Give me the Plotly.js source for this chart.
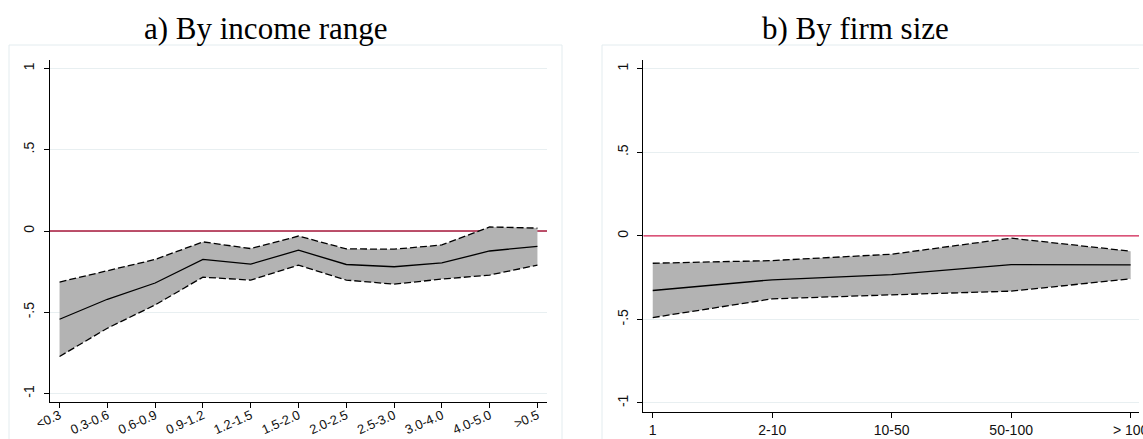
<!DOCTYPE html>
<html><head><meta charset="utf-8">
<script src="https://cdn.plot.ly/plotly-3.0.1.min.js"></script>
<style>html,body{margin:0;padding:0;background:#fff}#chart{width:1143px;height:439px}</style>
</head><body><div id="chart"></div>
<script>
const incomeCategories = ["<0.3","0.3-0.6","0.6-0.9","0.9-1.2","1.2-1.5","1.5-2.0","2.0-2.5","2.5-3.0","3.0-4.0","4.0-5.0",">0.5"];
const incomeEstimate = [-0.543,-0.420,-0.320,-0.175,-0.204,-0.118,-0.206,-0.220,-0.196,-0.123,-0.094];
const incomeUpper    = [-0.314,-0.245,-0.175,-0.067,-0.108,-0.031,-0.110,-0.112,-0.086, 0.025, 0.018];
const incomeLower    = [-0.772,-0.598,-0.455,-0.284,-0.302,-0.210,-0.302,-0.327,-0.296,-0.271,-0.210];

const firmCategories = ["1","2-10","10-50","50-100","> 100"];
const firmEstimate = [-0.327,-0.263,-0.232,-0.172,-0.174];
const firmUpper    = [-0.164,-0.148,-0.110,-0.014,-0.092];
const firmLower    = [-0.489,-0.377,-0.353,-0.331,-0.257];

const yTickVals = [-1,-0.5,0,0.5,1];
const yTickText = ["-1","-.5","0",".5","1"];
const referenceValue = 0;

const incomeXRange = [0.8, 11.2];
const firmXRange = [0.921, 5.07];

const W = 1143, H = 439;
const dashStyle = "7px,3px";
const bandFill = "#b3b3b3";

function panelTraces(cats, est, up, lo, xa, ya, xr, refColor) {
  const xs = cats.map((_, i) => i + 1);
  return [
    {x: xr, y: [referenceValue, referenceValue], xaxis: xa, yaxis: ya, type: "scatter", mode: "lines",
     line: {color: refColor, width: 1.3}, hoverinfo: "skip", cliponaxis: false},
    {x: xs, y: lo, xaxis: xa, yaxis: ya, type: "scatter", mode: "lines",
     line: {color: "#000", width: 1.3, dash: dashStyle}, hoverinfo: "skip"},
    {x: xs, y: up, xaxis: xa, yaxis: ya, type: "scatter", mode: "lines",
     fill: "tonexty", fillcolor: bandFill,
     line: {color: "#000", width: 1.3, dash: dashStyle}, hoverinfo: "skip"},
    {x: xs, y: est, xaxis: xa, yaxis: ya, type: "scatter", mode: "lines",
     line: {color: "#000", width: 1.3}, hoverinfo: "skip"}
  ];
}

const data = [].concat(
  panelTraces(incomeCategories, incomeEstimate, incomeUpper, incomeLower, "x", "y", incomeXRange, "#a8173a"),
  panelTraces(firmCategories, firmEstimate, firmUpper, firmLower, "x2", "y2", firmXRange, "#d42050")
);

const tickFont = {family: "Liberation Sans, Arial, sans-serif", size: 14, color: "#111"};
const gridColor = "#e8eff1";

function yAxis(domain, range, anchor) {
  return {
    domain: domain, range: range, anchor: anchor,
    tickvals: yTickVals, ticktext: yTickText, tickangle: -90,
    ticks: "outside", ticklen: 5, tickwidth: 1, tickcolor: "#000",
    showline: true, linecolor: "#000", linewidth: 1, mirror: false,
    showgrid: true, gridcolor: gridColor, gridwidth: 1,
    zeroline: false,
    tickfont: tickFont, ticklabelstandoff: 4, fixedrange: true
  };
}

const layout = {
  width: W, height: H,
  margin: {l: 0, r: 0, t: 0, b: 0},
  paper_bgcolor: "#fff", plot_bgcolor: "rgba(0,0,0,0)",
  showlegend: false,
  xaxis: {
    domain: [50 / W, 547 / W], range: incomeXRange, anchor: "y",
    tickvals: incomeCategories.map((_, i) => i + 1), ticktext: incomeCategories,
    tickangle: -24, ticks: "outside", ticklen: 5, tickwidth: 1, tickcolor: "#000",
    showline: true, linecolor: "#000", linewidth: 1, showgrid: false, zeroline: false,
    tickfont: Object.assign({}, tickFont, {size: 13}), ticklabelstandoff: -5, fixedrange: true
  },
  yaxis: yAxis([37 / H, 379 / H], [-1.052, 1.052], "x"),
  xaxis2: {
    domain: [643.3 / W, 1139 / W], range: firmXRange, anchor: "y2",
    tickvals: firmCategories.map((_, i) => i + 1), ticktext: firmCategories,
    tickangle: 0, ticks: "outside", ticklen: 5, tickwidth: 1, tickcolor: "#000",
    showline: true, linecolor: "#000", linewidth: 1, showgrid: false, zeroline: false,
    tickfont: tickFont, ticklabeloverflow: "allow", fixedrange: true
  },
  yaxis2: yAxis([27 / H, 379 / H], [-1.054, 1.052], "x2"),
  shapes: [
    {type: "rect", xref: "paper", yref: "paper", layer: "below",
     x0: 9 / W, x1: 562 / W, y0: -0.02, y1: (H - 45) / H,
     line: {color: "#e3ecef", width: 1}, fillcolor: "#fff"},
    {type: "rect", xref: "paper", yref: "paper", layer: "below",
     x0: 602 / W, x1: 1.02, y0: -0.02, y1: (H - 45) / H,
     line: {color: "#e3ecef", width: 1}, fillcolor: "#fff"}
  ],
  annotations: [
    {text: "a) By income range", xref: "paper", yref: "paper",
     x: 265.5 / W, y: (H - 28) / H, xanchor: "center", yanchor: "middle", showarrow: false,
     font: {family: "Liberation Serif, Times New Roman, serif", size: 31, color: "#000"}},
    {text: "b) By firm size", xref: "paper", yref: "paper",
     x: 855 / W, y: (H - 28) / H, xanchor: "center", yanchor: "middle", showarrow: false,
     font: {family: "Liberation Serif, Times New Roman, serif", size: 31, color: "#000"}}
  ]
};

Plotly.newPlot("chart", data, layout, {staticPlot: true, displayModeBar: false});
</script>
</body></html>
